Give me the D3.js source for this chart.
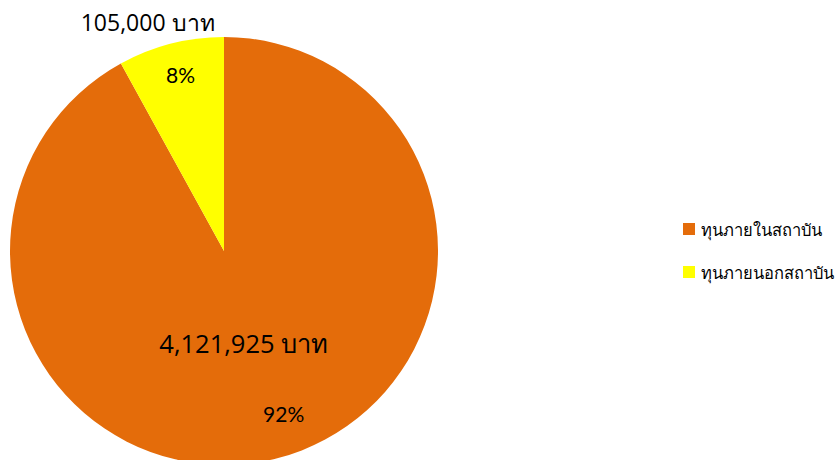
<!DOCTYPE html>
<html>
<head>
<meta charset="utf-8">
<script src="https://cdn.jsdelivr.net/npm/d3@7"></script>
<style>
  body { margin: 0; background: #fff; }
  svg { display: block; }
</style>
</head>
<body>
<div id="chart"></div>
<script>
// chart data
var categories = ['ทุนภายในสถาบัน', 'ทุนภายนอกสถาบัน'];
var percents = [92, 8];
var amounts = [4121925, 105000];
var colors = ['#E46C0A', '#FFFF00'];

var width = 836;
var height = 460;
var cx = 224;
var cy = 251;
var radius = 214;

var svg = d3.select('#chart').append('svg')
    .attr('width', width)
    .attr('height', height);

var pie = d3.pie().sort(null).value(function (d) { return d; });
var arcs = pie(percents);

var arc = d3.arc().innerRadius(0).outerRadius(radius);

var g = svg.append('g').attr('transform', 'translate(' + cx + ',' + cy + ')');

g.selectAll('path.slice')
    .data(arcs)
    .enter()
    .append('path')
    .attr('class', 'slice')
    .attr('d', arc)
    .attr('fill', function (d, i) { return colors[i]; });

// label placement: radius fraction, angle shift (radians) and font size for each slice
var pctPlace = [{ r: 0.81, shift: -0.10, size: 21 }, { r: 0.85, shift: 0.01, size: 21 }];
var amtPlace = [{ r: 0.44, shift: 0.04, size: 25.5 }, { r: 1.13, shift: -0.07, size: 23 }];

function labelPos(d, p) {
    var a = (d.startAngle + d.endAngle) / 2 + p.shift;
    var r = radius * p.r;
    return [r * Math.sin(a), -r * Math.cos(a)];
}

var fmt = d3.format(',');

g.selectAll('text.amt')
    .data(arcs)
    .enter()
    .append('text')
    .attr('class', 'amt')
    .attr('x', function (d, i) { return labelPos(d, amtPlace[i])[0]; })
    .attr('y', function (d, i) { return labelPos(d, amtPlace[i])[1]; })
    .attr('text-anchor', 'middle')
    .attr('dominant-baseline', 'central')
    .style('font-family', '"Open Sans", Lato, sans-serif')
    .style('font-size', function (d, i) { return amtPlace[i].size + 'px'; })
    .style('fill', '#000')
    .text(function (d, i) { return fmt(amounts[i]) + ' บาท'; });

g.selectAll('text.pct')
    .data(arcs)
    .enter()
    .append('text')
    .attr('class', 'pct')
    .attr('x', function (d, i) { return labelPos(d, pctPlace[i])[0]; })
    .attr('y', function (d, i) { return labelPos(d, pctPlace[i])[1]; })
    .attr('text-anchor', 'middle')
    .attr('dominant-baseline', 'central')
    .style('font-family', 'Lato, "Open Sans", sans-serif')
    .style('font-size', function (d, i) { return pctPlace[i].size + 'px'; })
    .style('fill', '#000')
    .text(function (d, i) { return percents[i] + '%'; });

// legend
var legend = svg.append('g').attr('transform', 'translate(683,223)');

var items = legend.selectAll('g.item')
    .data(categories)
    .enter()
    .append('g')
    .attr('class', 'item')
    .attr('transform', function (d, i) { return 'translate(0,' + (i * 43) + ')'; });

items.append('rect')
    .attr('width', 12)
    .attr('height', 12)
    .attr('fill', function (d, i) { return colors[i]; });

items.append('text')
    .attr('x', 18)
    .attr('y', 6)
    .attr('dominant-baseline', 'central')
    .style('font-family', 'Tahoma, "Noto Sans", sans-serif')
    .style('font-size', '16.5px')
    .style('fill', '#000')
    .text(function (d) { return d; });
</script>
</body>
</html>
